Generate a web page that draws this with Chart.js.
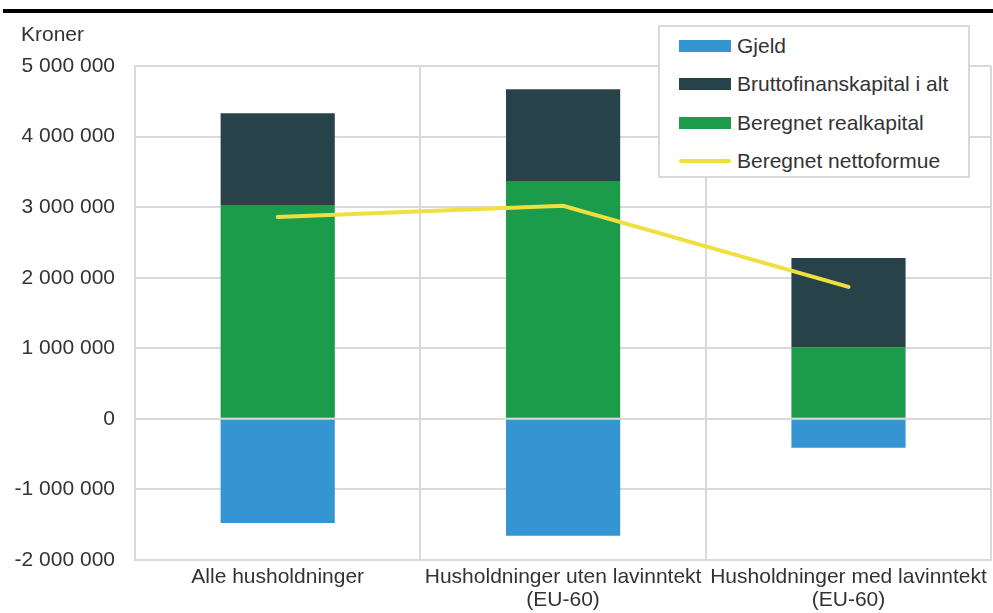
<!DOCTYPE html>
<html>
<head>
<meta charset="utf-8">
<script src="https://cdn.jsdelivr.net/npm/chart.js@4.4.1/dist/chart.umd.min.js"></script>
<style>
    html, body { margin: 0; padding: 0; background: #fff; }
    body { width: 993px; height: 613px; position: relative; overflow: hidden; font-family: "Liberation Sans", Arial, sans-serif; color: #333; }
    #topRule { position: absolute; left: 3px; top: 9px; width: 990px; height: 4px; background: #000; }
    #unit { position: absolute; left: 21px; top: 22px; font-size: 21px; line-height: 24px; color: #333; }
    #wrap { position: absolute; left: 0; top: 0; width: 993px; height: 613px; }
    #legend { position: absolute; left: 658px; top: 25px; width: 308px; height: 149px; background: #fff; border: 2px solid #d9d9d9; }
    .item { position: absolute; left: 19px; height: 24px; display: flex; align-items: center; font-size: 21px; color: #333; }
    .swatch { width: 52px; height: 12px; margin-right: 6px; }
    .swatch.line { height: 4px; border-radius: 2px; }
</style>
</head>
<body>
<div id="topRule"></div>
<div id="wrap"><canvas id="chart" width="993" height="613"></canvas></div>
<div id="unit">Kroner</div>
<div id="legend"></div>

<script>
// Data
const categories = [
    'Alle husholdninger',
    ['Husholdninger uten lavinntekt', '(EU-60)'],
    ['Husholdninger med lavinntekt', '(EU-60)']
];
const gjeld = [-1475000, -1655000, -410000];
const realkapital = [3030000, 3370000, 1010000];
const bruttofinans = [1300000, 1300000, 1270000];
const nettoformue = [2860000, 3020000, 1870000];
const yTicks = [-2000000, -1000000, 0, 1000000, 2000000, 3000000, 4000000, 5000000];

const COLORS = {
    gjeld: '#3594d2',
    brutto: '#28424a',
    real: '#1c9b4a',
    netto: '#efe03f'
};
const GRID = '#d9d9d9';
const FONT = '"Liberation Sans", Arial, sans-serif';

function formatKr(v) {
    return String(v).replace(/\B(?=(\d{3})+(?!\d))/g, ' ');
}

const chart = new Chart(document.getElementById('chart'), {
    type: 'bar',
    data: {
        labels: categories,
        datasets: [
            {
                label: 'Beregnet nettoformue',
                type: 'line',
                data: nettoformue,
                borderColor: COLORS.netto,
                backgroundColor: COLORS.netto,
                borderWidth: 4,
                pointRadius: 0,
                borderCapStyle: 'round',
                tension: 0,
                stack: 'line',
                order: -1
            },
            { label: 'Gjeld', data: gjeld, backgroundColor: COLORS.gjeld, stack: 'bars' },
            { label: 'Beregnet realkapital', data: realkapital, backgroundColor: COLORS.real, stack: 'bars' },
            { label: 'Bruttofinanskapital i alt', data: bruttofinans, backgroundColor: COLORS.brutto, stack: 'bars' }
        ]
    },
    options: {
        responsive: false,
        animation: false,
        layout: { padding: { top: 66, right: 1, left: 0, bottom: 0 } },
        datasets: {
            bar: { categoryPercentage: 1, barPercentage: 0.4, borderWidth: 0 }
        },
        plugins: {
            legend: { display: false },
            tooltip: { enabled: false }
        },
        scales: {
            x: {
                stacked: true,
                grid: { color: GRID, lineWidth: 2, drawTicks: false, offset: true },
                border: { color: GRID, width: 2 },
                ticks: { color: '#333', font: { family: FONT, size: 21, lineHeight: 1.1 }, padding: 6, maxRotation: 0, autoSkip: false },
                afterFit: (scale) => { scale.height = 53; }
            },
            y: {
                stacked: true,
                min: -2000000,
                max: 5000000,
                afterBuildTicks: (scale) => { scale.ticks = yTicks.map(v => ({ value: v })); },
                grid: { color: GRID, lineWidth: 2, drawTicks: false },
                border: { color: GRID, width: 2 },
                ticks: { color: '#333', font: { family: FONT, size: 21 }, padding: 20, callback: (v) => formatKr(v) },
                afterFit: (scale) => { scale.width = 135; }
            }
        }
    }
});

// Legend in the original order, built from the chart's datasets
const legendOrder = ['Gjeld', 'Bruttofinanskapital i alt', 'Beregnet realkapital', 'Beregnet nettoformue'];
const legendEl = document.getElementById('legend');
const rowTops = [7, 45, 84, 122];
legendOrder.forEach((name, i) => {
    const ds = chart.data.datasets.find(d => d.label === name);
    const item = document.createElement('div');
    item.className = 'item';
    item.style.top = rowTops[i] + 'px';
    const sw = document.createElement('span');
    sw.className = 'swatch' + (ds.type === 'line' ? ' line' : '');
    sw.style.background = ds.type === 'line' ? ds.borderColor : ds.backgroundColor;
    const txt = document.createElement('span');
    txt.textContent = ds.label;
    item.appendChild(sw);
    item.appendChild(txt);
    legendEl.appendChild(item);
});
</script>
</body>
</html>
